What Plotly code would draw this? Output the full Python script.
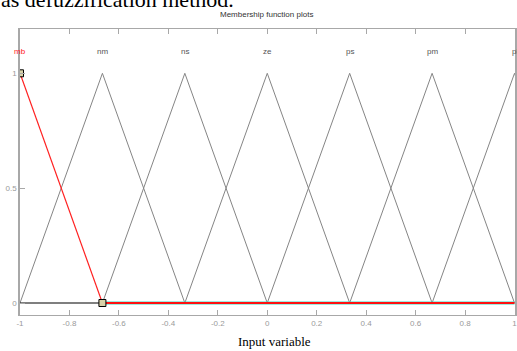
import plotly.graph_objects as go

# Membership function definitions (triangle vertices)
mf_names = ["mb", "nm", "ns", "ze", "ps", "pm", "pl"]
mf_peaks = [-1.0, -0.6667, -0.3333, 0.0, 0.3333, 0.6667, 1.0]
mf_left = [-1.3333, -1.0, -0.6667, -0.3333, 0.0, 0.3333, 0.6667]
mf_right = [-0.6667, -0.3333, 0.0, 0.3333, 0.6667, 1.0, 1.3333]
x_ticks = [-1, -0.8, -0.6, -0.4, -0.2, 0, 0.2, 0.4, 0.6, 0.8, 1]
x_tick_text = ["-1", "-0.8", "-0.6", "-0.4", "-0.2", "0", "0.2", "0.4", "0.6", "0.8", "1"]
y_ticks = [0, 0.5, 1]
y_tick_text = ["0", "0.5", "1"]

GREY = "#858585"
FRAME = "#a8a8a8"

fig = go.Figure()

# grey triangles (unselected MFs)
for i in range(1, len(mf_names)):
    fig.add_trace(go.Scatter(
        x=[mf_left[i], mf_peaks[i], mf_right[i]], y=[0, 1, 0],
        mode="lines", line=dict(color=GREY, width=1), hoverinfo="skip", showlegend=False))

# black baseline under the selected MF support
fig.add_trace(go.Scatter(x=[mf_peaks[0], mf_right[0]], y=[0, 0], mode="lines",
                         line=dict(color="black", width=1.2), showlegend=False))
# selected MF "mb" in red
fig.add_trace(go.Scatter(x=[mf_peaks[0], mf_right[0]], y=[1, 0], mode="lines",
                         line=dict(color="#ff2020", width=1.2), showlegend=False))
fig.add_trace(go.Scatter(x=[mf_right[0], x_ticks[-1]], y=[0, 0], mode="lines",
                         line=dict(color="#40d8c0", width=3.2), showlegend=False))
fig.add_trace(go.Scatter(x=[mf_right[0], x_ticks[-1]], y=[0, 0], mode="lines",
                         line=dict(color="#ff1010", width=1.8), showlegend=False))
# handles
fig.add_trace(go.Scatter(x=[mf_peaks[0], mf_right[0]], y=[1, 0], mode="markers",
                         marker=dict(symbol="square", size=7, color="#d8d2a8",
                                     line=dict(color="black", width=1)),
                         showlegend=False))

# MF labels above peaks
for name, p in zip(mf_names, mf_peaks):
    fig.add_annotation(x=p, y=1.093, text=name, showarrow=False,
                       font=dict(family="Liberation Sans Narrow, Arial Narrow, Liberation Sans", size=8,
                                 color="#ff2020" if name == "mb" else "#555555"),
                       xanchor="center", yanchor="middle")

# plot title
fig.add_annotation(xref="paper", yref="paper", x=0.497, y=1.052, text="Membership function plots",
                   showarrow=False, font=dict(family="Liberation Sans Narrow, Liberation Sans", size=8, color="#333333"),
                   xanchor="center", yanchor="middle")
# cropped document text at top
fig.add_annotation(xref="paper", yref="paper", x=-0.042, y=1.1015, text="as defuzzification method.",
                   showarrow=False, font=dict(family="Liberation Serif", size=22, color="black"),
                   xanchor="left", yanchor="middle")
# x axis title
fig.add_annotation(xref="paper", yref="paper", x=0.515, y=-0.094, text="Input variable",
                   showarrow=False, font=dict(family="Liberation Serif", size=13, color="black"),
                   xanchor="center", yanchor="middle")

fig.update_layout(
    width=517, height=351,
    margin=dict(l=20, r=2, t=29, b=36, autoexpand=False),
    paper_bgcolor="white", plot_bgcolor="white",
    showlegend=False,
    xaxis=dict(range=[-1, 1.002], tickvals=x_ticks, ticktext=x_tick_text, automargin=False,
               ticklabeloverflow="allow",
               ticks="inside", ticklen=5, tickcolor=FRAME, showgrid=False, zeroline=False,
               showline=True, linecolor=FRAME, linewidth=1, mirror="ticks",
               tickfont=dict(family="Liberation Sans Narrow, Liberation Sans", size=8, color="#9a9a9a")),
    yaxis=dict(range=[-0.0522, 1.1929], tickvals=y_ticks, ticktext=y_tick_text, automargin=False,
               ticks="inside", ticklen=5, tickcolor=FRAME, showgrid=False, zeroline=False,
               showline=True, linecolor=FRAME, linewidth=1.5, mirror=True,
               tickfont=dict(family="Liberation Sans Narrow, Liberation Sans", size=8, color="#9a9a9a")),
)

fig.write_html("out.html", config={"displayModeBar": False},
               post_script="document.body.style.margin='0';document.body.style.overflow='hidden';")
